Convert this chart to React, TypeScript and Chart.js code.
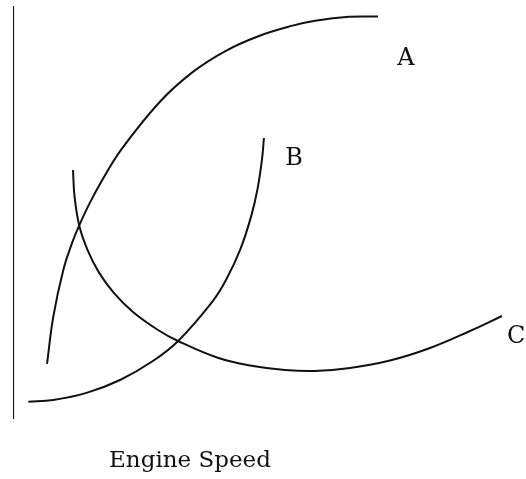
import React, { useEffect, useRef } from "react";
import { Chart, registerables } from "chart.js";

Chart.register(...registerables);

// Schematic engine curves (arbitrary units: engine speed 0-100, output 0-100)
const curveA_x = [6.8, 8.06, 10.06, 11.8, 13.12, 15.36, 17.88, 21.64, 29.34, 35.98, 42.48, 49.08, 55.72, 60.42, 67.22, 73.0];
const curveA_y = [13.32, 24.77, 36.08, 42.59, 46.54, 52.32, 57.94, 65.23, 76.76, 84.04, 89.1, 92.69, 95.18, 96.42, 97.38, 97.46];

const curveB_x = [3.06, 8.04, 14.7, 21.4, 27.98, 33.08, 39.92, 42.62, 45.52, 47.68, 48.92, 49.82, 50.18];
const curveB_y = [4.19, 4.6, 6.32, 9.44, 14.04, 18.96, 28.5, 33.7, 41.26, 49.3, 55.79, 63.08, 68.04];

const curveC_x = [12.0, 12.32, 13.3, 14.92, 17.18, 20.12, 24.0, 29.0, 33.0, 40.8, 47.4, 54.4, 60.4, 67.4, 75.4, 83.4, 91.4, 97.8];
const curveC_y = [60.29, 53.75, 46.61, 40.9, 35.5, 30.61, 25.91, 21.55, 18.89, 14.89, 12.95, 11.86, 11.62, 12.35, 14.16, 17.19, 21.31, 24.94];

const curveLabels = ["A", "B", "C"];
const labelX = [78.6, 56.2, 98.8];
const labelY = [85.7, 61.5, 18.4];
const labelAlign: CanvasTextAlign[] = ["center", "center", "left"];

const xAxisTitle = "Engine Speed";
const xAxisTitleX = 35.4;

const toPoints = (xs: number[], ys: number[]) => xs.map((x, i) => ({ x, y: ys[i] }));

const textPlugin = {
  id: "schematicText",
  afterDatasetsDraw(chart: any) {
    const { ctx, scales, chartArea } = chart;
    const xs = scales.x;
    const ys = scales.y;
    ctx.save();
    ctx.fillStyle = "#111";
    ctx.textBaseline = "alphabetic";
    ctx.font = "24px 'DejaVu Serif'";
    curveLabels.forEach((t, i) => {
      ctx.textAlign = labelAlign[i];
      ctx.fillText(t, xs.getPixelForValue(labelX[i]), ys.getPixelForValue(labelY[i]));
    });
    ctx.font = "23px 'DejaVu Serif'";
    ctx.textAlign = "center";
    ctx.fillText(xAxisTitle, xs.getPixelForValue(xAxisTitleX), chartArea.bottom + 48);
    ctx.restore();
  },
};

export default function App() {
  const ref = useRef<HTMLCanvasElement>(null);
  useEffect(() => {
    document.body.style.margin = "0";
    const line = (data: any[]) => ({
      data,
      borderColor: "#111",
      borderWidth: 2,
      pointRadius: 0,
      tension: 0.4,
      fill: false,
      showLine: true,
    });
    const chart = new Chart(ref.current!, {
      type: "scatter",
      data: {
        datasets: [
          { ...line([{ x: 0, y: 0 }, { x: 0, y: 100 }]), borderWidth: 2.2, tension: 0 },
          line(toPoints(curveA_x, curveA_y)),
          line(toPoints(curveB_x, curveB_y)),
          line(toPoints(curveC_x, curveC_y)),
        ],
      },
      options: {
        responsive: false,
        animation: false,
        layout: { padding: { left: 13, right: 13, top: 6, bottom: 60 } },
        plugins: { legend: { display: false }, tooltip: { enabled: false } },
        scales: {
          x: { type: "linear", min: 0, max: 100, display: false },
          y: { type: "linear", min: 0, max: 100, display: false },
        },
      },
      plugins: [textPlugin],
    });
    return () => chart.destroy();
  }, []);
  return (
    <div style={{ position: "fixed", left: 0, top: 0, width: 526, height: 479, background: "#fff" }}>
      <canvas ref={ref} width={526} height={479} />
    </div>
  );
}
